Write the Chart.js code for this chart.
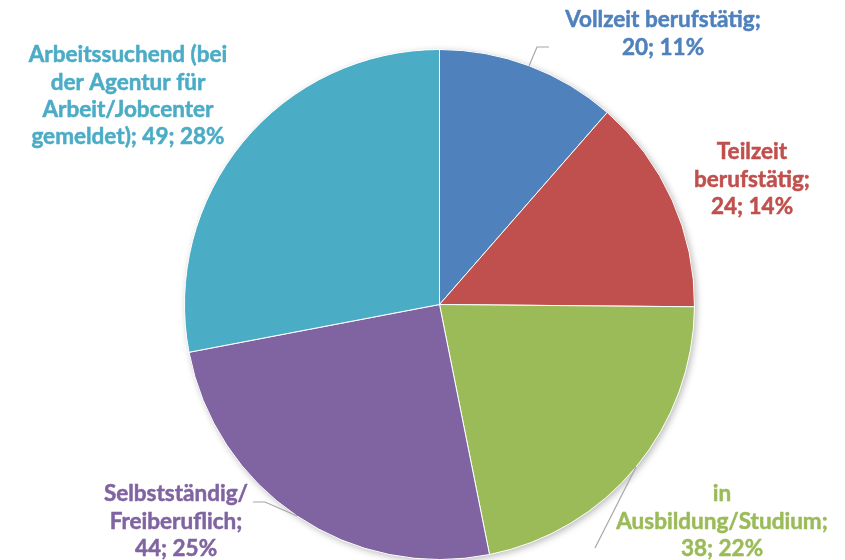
<!DOCTYPE html>
<html>
<head>
<meta charset="utf-8">
<script src="https://cdn.jsdelivr.net/npm/chart.js@4/dist/chart.umd.min.js"></script>
<style>
  html, body { margin: 0; padding: 0; background: #fff; }
  #wrap { width: 845px; height: 560px; position: relative; }
</style>
</head>
<body>
<div id="wrap"><canvas id="statusPie"></canvas></div>
<script>
const categories = [
  "Vollzeit berufstätig",
  "Teilzeit berufstätig",
  "in Ausbildung/Studium",
  "Selbstständig/ Freiberuflich",
  "Arbeitssuchend (bei der Agentur für Arbeit/Jobcenter gemeldet)"
];
const counts = [20, 24, 38, 44, 49];
const sliceColors = ["#4F81BD", "#C0504D", "#9BBB59", "#8064A2", "#4BACC6"];

// label text lines as shown in the picture
const labelLines = [
  ["Vollzeit berufstätig;", "20; 11%"],
  ["Teilzeit", "berufstätig;", "24; 14%"],
  ["in", "Ausbildung/Studium;", "38; 22%"],
  ["Selbstständig/", "Freiberuflich;", "44; 25%"],
  ["Arbeitssuchend (bei", "der Agentur für", "Arbeit/Jobcenter", "gemeldet); 49; 28%"]
];

// label placement: centre x, first line y, and optional leader line knee
const labelPlace = [
  { x: 663, y: 20, knee: [537, 47], tail: [549, 47] },
  { x: 752, y: 152 },
  { x: 722, y: 494, knee: [595, 548], tail: null },
  { x: 176, y: 494, knee: [265, 502], tail: [253, 502] },
  { x: 128, y: 55 }
];
const LINE_H = 27.3;

// soft shadow behind the pie, like the office original
const pieShadow = {
  id: "pieShadow",
  beforeDatasetsDraw(chart) {
    const arc = chart.getDatasetMeta(0).data[0];
    if (!arc) return;
    const ctx = chart.ctx;
    ctx.save();
    ctx.shadowColor = "rgba(0,0,0,0.28)";
    ctx.shadowBlur = 7;
    ctx.shadowOffsetX = 2;
    ctx.shadowOffsetY = 2;
    ctx.fillStyle = "#ffffff";
    ctx.beginPath();
    ctx.arc(arc.x, arc.y, arc.outerRadius, 0, Math.PI * 2);
    ctx.fill();
    ctx.restore();
  }
};

const pieLabels = {
  id: "pieLabels",
  afterDatasetsDraw(chart) {
    const ctx = chart.ctx;
    const meta = chart.getDatasetMeta(0);
    ctx.save();
    meta.data.forEach((arc, i) => {
      const p = labelPlace[i];
      if (p.knee) {
        const mid = (arc.startAngle + arc.endAngle) / 2;
        const ex = arc.x + Math.cos(mid) * arc.outerRadius;
        const ey = arc.y + Math.sin(mid) * arc.outerRadius;
        ctx.strokeStyle = "#A6A6A6";
        ctx.lineWidth = 1.2;
        ctx.beginPath();
        ctx.moveTo(ex, ey);
        ctx.lineTo(p.knee[0], p.knee[1]);
        if (p.tail) ctx.lineTo(p.tail[0], p.tail[1]);
        ctx.stroke();
      }
      ctx.fillStyle = sliceColors[i];
      ctx.strokeStyle = sliceColors[i];
      ctx.lineWidth = 0.5;
      ctx.font = "bold 22.5px Lato";
      ctx.textAlign = "center";
      ctx.textBaseline = "middle";
      labelLines[i].forEach((t, k) => {
        ctx.fillText(t, p.x, p.y + k * LINE_H);
        ctx.strokeText(t, p.x, p.y + k * LINE_H);
      });
    });
    ctx.restore();
  }
};

new Chart(document.getElementById("statusPie"), {
  type: "pie",
  data: {
    labels: categories,
    datasets: [{
      data: counts,
      backgroundColor: sliceColors,
      borderColor: "#ffffff",
      borderWidth: 1
    }]
  },
  options: {
    responsive: true,
    maintainAspectRatio: false,
    animation: false,
    layout: { padding: { left: 183, right: 149, top: 49, bottom: 0 } },
    plugins: {
      legend: { display: false },
      tooltip: { enabled: false }
    }
  },
  plugins: [pieShadow, pieLabels]
});
</script>
</body>
</html>
